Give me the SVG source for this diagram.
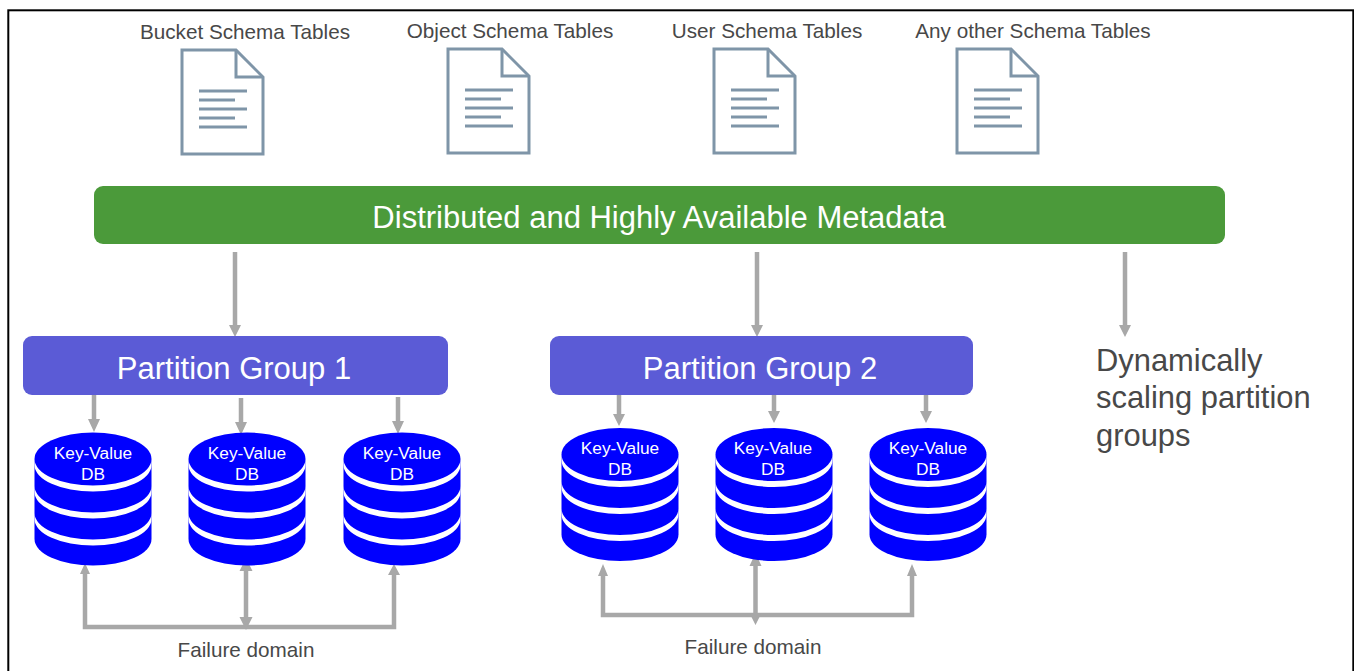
<svg xmlns="http://www.w3.org/2000/svg" width="1354" height="671" viewBox="0 0 1354 671">
<style>
text{font-family:"Liberation Sans",Arial,sans-serif;text-anchor:middle}
.lbl{fill:#484848;font-size:20.700px}
.big{fill:#484848;font-size:30.900px;text-anchor:start}
.w{fill:#fff}
.db{fill:#fff;font-size:17.300px}
.doc path{fill:none;stroke:#7f95a8;stroke-width:3}
.c{stroke:#a8a8a8;stroke-width:4.500;fill:none}
.h{fill:#a8a8a8}
</style>
<defs>
<g id="doc" class="doc">
<path d="M0 0H54L81 27V104H0Z"/>
<path d="M54 0V27H81"/>
<path d="M17 41H65M17 50H53M17 59H65M17 68H53M17 77H65"/>
</g>
<g id="cyl">
<path fill="#0000ff" d="M-58.500 -53A58.500 26.500 0 0 1 58.500 -53V27A58.500 26.500 0 0 1 -58.500 27Z"/>
<path fill="#fff" d="M-58.500 -53A58.500 26.500 0 0 0 58.500 -53V-47A58.500 26.500 0 0 1 -58.500 -47Z"/>
<path fill="#fff" d="M-58.500 -26A58.500 26.500 0 0 0 58.500 -26V-20A58.500 26.500 0 0 1 -58.500 -20Z"/>
<path fill="#fff" d="M-58.500 1A58.500 26.500 0 0 0 58.500 1V7A58.500 26.500 0 0 1 -58.500 7Z"/>
</g>
</defs>
<rect x="8.300" y="10.300" width="1345" height="670" fill="#fff" stroke="#000" stroke-width="2"/>
<g id="connectors">
<path class="c" d="M235 252V327M757 252V327M1125 252V327M94 395V421M241 398V424M398 397V423M619 395V416M774 392V413M926 392V413M85 572V627H394V573M246 568V619M603 573V615H912V573M755.500 564V615"/>
<path class="h" d="M229 325H241L235 337ZM751 325H763L757 337ZM1119 325H1131L1125 337ZM88 419H100L94 432ZM235 422H247L241 435ZM392 421H404L398 434ZM613 414H625L619 426ZM768 411H780L774 423ZM920 411H932L926 423ZM85 563L90 574H80ZM246 558L252.500 571H239.500ZM394 564L400 575H388ZM239.500 617H252.500L246 630ZM603 564L608 576H598ZM755.500 553L761.500 566H749.500ZM912 564L917 576H907ZM749.500 613H761.500L755.500 625Z"/>
</g>
<g id="bucket-schema"><text class="lbl" x="245" y="39">Bucket Schema Tables</text><use href="#doc" x="182" y="50"/></g>
<g id="object-schema"><text class="lbl" x="510" y="38">Object Schema Tables</text><use href="#doc" x="448" y="49"/></g>
<g id="user-schema"><text class="lbl" x="767" y="38">User Schema Tables</text><use href="#doc" x="714" y="49"/></g>
<g id="other-schema"><text class="lbl" x="1033" y="38">Any other Schema Tables</text><use href="#doc" x="957" y="49"/></g>
<g id="metadata"><rect x="94" y="186" width="1131" height="58" rx="9" fill="#4b9a3a"/><text class="w" x="659" y="228" font-size="31">Distributed and Highly Available Metadata</text></g>
<g id="pg1"><rect x="23" y="336" width="425" height="59" rx="9" fill="#5b5bd6"/><text class="w" x="234" y="379" font-size="31">Partition Group 1</text></g>
<g id="pg2"><rect x="550" y="336" width="423" height="59" rx="9" fill="#5b5bd6"/><text class="w" x="760" y="379" font-size="31">Partition Group 2</text></g>
<g id="scaling"><text class="big" x="1096" y="371">Dynamically</text><text class="big" x="1096" y="408">scaling partition</text><text class="big" x="1096" y="446">groups</text></g>
<g id="db1a"><use href="#cyl" x="93" y="512"/><text class="db" x="93" y="459">Key-Value</text><text class="db" x="93" y="480">DB</text></g>
<g id="db1b"><use href="#cyl" x="247" y="512"/><text class="db" x="247" y="459">Key-Value</text><text class="db" x="247" y="480">DB</text></g>
<g id="db1c"><use href="#cyl" x="402" y="512"/><text class="db" x="402" y="459">Key-Value</text><text class="db" x="402" y="480">DB</text></g>
<g id="db2a"><use href="#cyl" x="620" y="507.500"/><text class="db" x="620" y="454">Key-Value</text><text class="db" x="620" y="475">DB</text></g>
<g id="db2b"><use href="#cyl" x="774" y="507.500"/><text class="db" x="773" y="454">Key-Value</text><text class="db" x="773" y="475">DB</text></g>
<g id="db2c"><use href="#cyl" x="928" y="507.500"/><text class="db" x="928" y="454">Key-Value</text><text class="db" x="928" y="475">DB</text></g>
<g id="fd1"><text class="lbl" x="246" y="657">Failure domain</text></g>
<g id="fd2"><text class="lbl" x="753" y="654">Failure domain</text></g>
</svg>
